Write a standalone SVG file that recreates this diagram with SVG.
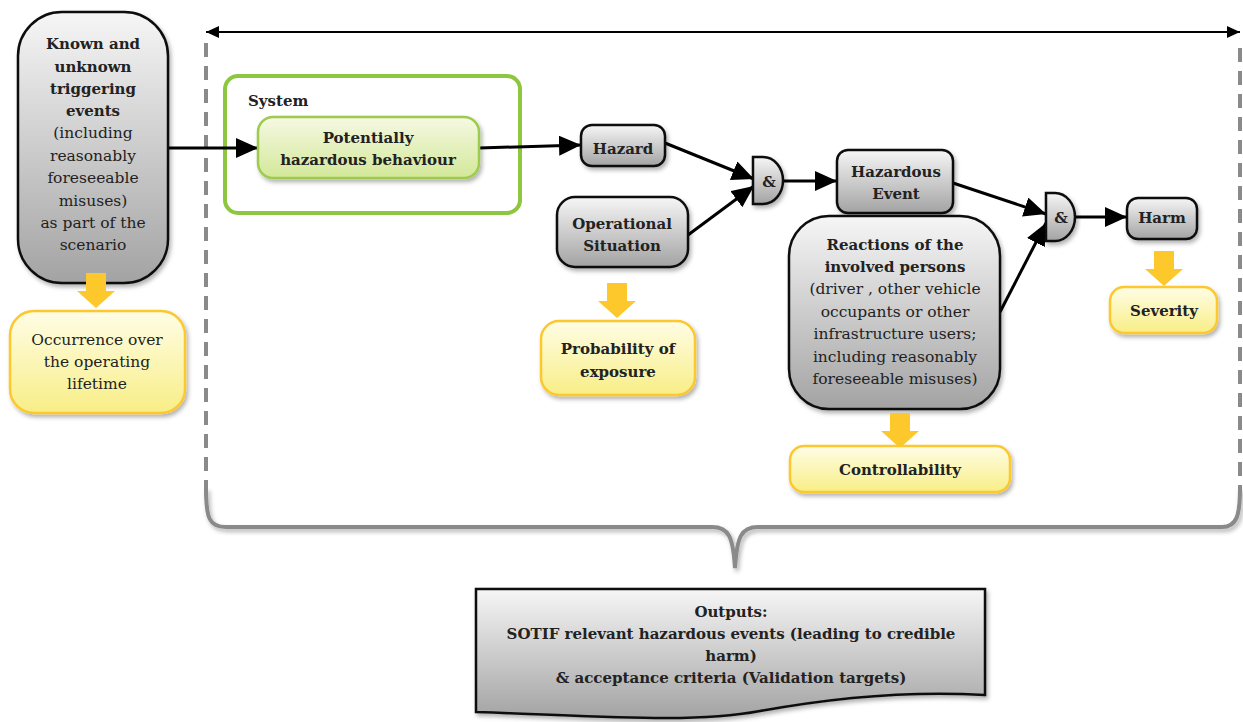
<svg xmlns="http://www.w3.org/2000/svg" width="1243" height="722" viewBox="0 0 1243 722">
<defs>
<linearGradient id="gGray" x1="0" y1="0" x2="0" y2="1"><stop offset="0" stop-color="#f6f6f6"/><stop offset="1" stop-color="#a3a3a3"/></linearGradient>
<linearGradient id="gYel" x1="0" y1="0" x2="0" y2="1"><stop offset="0" stop-color="#fffde6"/><stop offset="1" stop-color="#f8ee86"/></linearGradient>
<linearGradient id="gGrn" x1="0" y1="0" x2="0" y2="1"><stop offset="0" stop-color="#f5f9e3"/><stop offset="1" stop-color="#d3e899"/></linearGradient>
<filter id="sh" x="-10%" y="-10%" width="130%" height="140%"><feDropShadow dx="2" dy="3" stdDeviation="2" flood-color="#000" flood-opacity="0.3"/></filter>
<marker id="ah" markerUnits="userSpaceOnUse" markerWidth="24" markerHeight="22" refX="22" refY="10" orient="auto"><path d="M0,0 L22,10 L0,20 z" fill="#000"/></marker>
<marker id="ahs" markerUnits="userSpaceOnUse" markerWidth="14" markerHeight="12" refX="13" refY="6" orient="auto-start-reverse"><path d="M0,0 L13,6 L0,12 z" fill="#000"/></marker>
<path id="yarrow" d="M-10,0 H10 V18 H19 L0,35 L-19,18 H-10 Z"/>
</defs>
<style>
text{font-family:"DejaVu Serif","Liberation Serif",serif;font-size:15.5px;fill:#222;text-anchor:middle}
.b{font-weight:bold;font-size:15px}
.gray{fill:url(#gGray);stroke:#111;stroke-width:2.5;filter:url(#sh)}
.yel{fill:url(#gYel);stroke:#fcc82e;stroke-width:2.5;filter:url(#sh)}
.grn{fill:url(#gGrn);stroke:#9ccb4e;stroke-width:2.5;filter:url(#sh)}
.ya{fill:#fdc82b}
.conn{stroke:#000;stroke-width:3;fill:none;marker-end:url(#ah)}
.frame{stroke:#8a8a8a;stroke-width:4;fill:none}
</style>

<g id="frame">
<line x1="206" y1="43" x2="206" y2="492" class="frame" stroke-dasharray="14 9"/>
<line x1="1240" y1="48" x2="1240" y2="492" class="frame" stroke-dasharray="14 9"/>
<path d="M206,488 C206,518 209,527 226,527 L712,527 C729,527 733,537 735,568 C737,537 741,527 758,527 L1222,527 C1237,527 1240,515 1240,488" class="frame" filter="url(#sh)"/>
<line x1="206" y1="32" x2="1240" y2="32" stroke="#000" stroke-width="2" marker-start="url(#ahs)" marker-end="url(#ahs)"/>
</g>

<g id="system">
<rect x="225" y="76" width="295" height="137" rx="13" fill="#fff" stroke="#8dc63f" stroke-width="4"/>
<text x="248" y="106" class="b" style="text-anchor:start">System</text>
</g>

<g id="connectors">
<line x1="168" y1="148" x2="258" y2="148" class="conn"/>
<line x1="479" y1="148" x2="581" y2="145" class="conn"/>
<line x1="665" y1="143" x2="754" y2="179" class="conn"/>
<line x1="688" y1="235" x2="754" y2="186" class="conn"/>
<line x1="783" y1="181" x2="837" y2="181" class="conn"/>
<line x1="953" y1="183" x2="1046" y2="214" class="conn"/>
<line x1="1000" y1="312" x2="1046" y2="223" class="conn"/>
<line x1="1075" y1="217" x2="1127" y2="217" class="conn"/>
</g>

<g id="triggering">
<rect x="18" y="12" width="150" height="271" rx="44" class="gray"/>
<text x="93" y="49" class="b">Known and</text>
<text x="93" y="72" class="b">unknown</text>
<text x="93" y="94" class="b">triggering</text>
<text x="93" y="116" class="b">events</text>
<text x="93" y="138">(including</text>
<text x="93" y="161">reasonably</text>
<text x="93" y="183">foreseeable</text>
<text x="93" y="206">misuses)</text>
<text x="93" y="228">as part of the</text>
<text x="93" y="250">scenario</text>
</g>
<g id="arrow-occurrence"><use href="#yarrow" x="96" y="273" class="ya"/></g>
<g id="occurrence">
<rect x="10" y="311" width="175" height="102" rx="24" class="yel"/>
<text x="97" y="345">Occurrence over</text>
<text x="97" y="367">the operating</text>
<text x="97" y="389">lifetime</text>
</g>

<g id="potentially">
<rect x="258" y="117" width="221" height="61" rx="15" class="grn"/>
<text x="368" y="143" class="b">Potentially</text>
<text x="368" y="165" class="b">hazardous behaviour</text>
</g>

<g id="hazard">
<rect x="581" y="125" width="84" height="41" rx="11" class="gray"/>
<text x="623" y="154" class="b">Hazard</text>
</g>

<g id="opsit">
<rect x="557" y="197" width="131" height="70" rx="18" class="gray"/>
<text x="622" y="229" class="b">Operational</text>
<text x="622" y="251" class="b">Situation</text>
</g>
<g id="arrow-exposure"><use href="#yarrow" x="617" y="283" class="ya"/></g>
<g id="exposure">
<rect x="541" y="321" width="154" height="74" rx="18" class="yel"/>
<text x="618" y="354" class="b">Probability of</text>
<text x="618" y="377" class="b">exposure</text>
</g>

<g id="and1">
<path d="M753,157 H763 A20,23.5 0 0 1 763,204 H753 Z" class="gray"/>
<text x="769" y="187" class="b">&amp;</text>
</g>

<g id="hazevent">
<rect x="837" y="150" width="116" height="63" rx="11" class="gray"/>
<text x="896" y="177" class="b">Hazardous</text>
<text x="896" y="199" class="b">Event</text>
</g>

<g id="reactions">
<rect x="789" y="216" width="211" height="193" rx="40" class="gray"/>
<text x="895" y="250" class="b">Reactions of the</text>
<text x="895" y="272" class="b">involved persons</text>
<text x="895" y="294">(driver , other vehicle</text>
<text x="895" y="317">occupants or other</text>
<text x="895" y="339">infrastructure users;</text>
<text x="895" y="362">including reasonably</text>
<text x="895" y="384">foreseeable misuses)</text>
</g>
<g id="arrow-controllability"><use href="#yarrow" x="900" y="413" class="ya"/></g>
<g id="controllability">
<rect x="790" y="446" width="220" height="46" rx="14" class="yel"/>
<text x="900" y="475" class="b">Controllability</text>
</g>

<g id="and2">
<path d="M1046,193 H1055 A20,24 0 0 1 1055,241 H1046 Z" class="gray"/>
<text x="1061" y="223" class="b">&amp;</text>
</g>

<g id="harm">
<rect x="1127" y="198" width="70" height="41" rx="11" class="gray"/>
<text x="1162" y="223" class="b">Harm</text>
</g>
<g id="arrow-severity"><use href="#yarrow" x="1164" y="251" class="ya"/></g>
<g id="severity">
<rect x="1110" y="287" width="107" height="46" rx="14" class="yel"/>
<text x="1164" y="316" class="b">Severity</text>
</g>

<g id="outputs">
<path d="M476,589 H985 V695 C900,690 820,700 760,711 C690,724 600,716 476,712 Z" class="gray"/>
<text x="731" y="617" class="b">Outputs:</text>
<text x="731" y="639" class="b">SOTIF relevant hazardous events (leading to credible</text>
<text x="731" y="661" class="b">harm)</text>
<text x="731" y="683" class="b">&amp; acceptance criteria (Validation targets)</text>
</g>
</svg>
